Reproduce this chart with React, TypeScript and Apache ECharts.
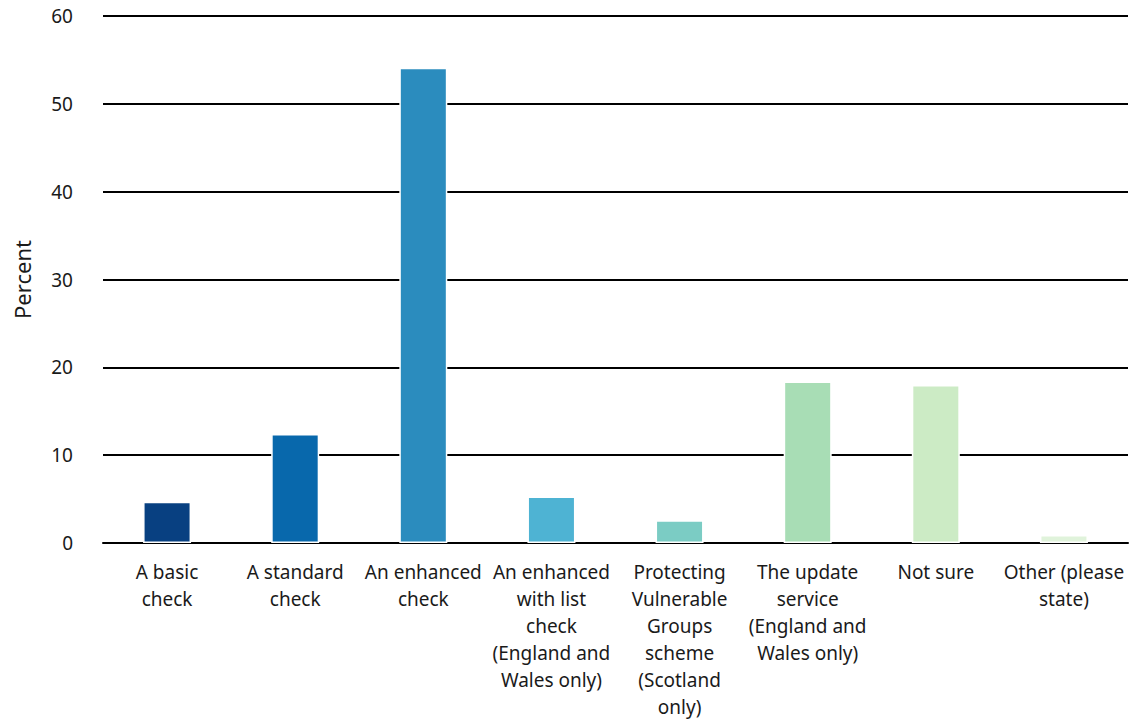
import React, { useEffect, useRef } from "react";
import * as echarts from "echarts";

const categories = [
  "A basic\ncheck",
  "A standard\ncheck",
  "An enhanced\ncheck",
  "An enhanced\nwith list\ncheck\n(England and\nWales only)",
  "Protecting\nVulnerable\nGroups\nscheme\n(Scotland\nonly)",
  "The update\nservice\n(England and\nWales only)",
  "Not sure",
  "Other (please\nstate)",
];
const values = [4.7, 12.4, 54.1, 5.3, 2.6, 18.4, 18.0, 0.9];
const colors = ["#084081", "#0868ac", "#2b8cbe", "#4eb3d3", "#7bccc4", "#a8ddb5", "#ccebc5", "#e0f3db"];
const yTicks = { min: 0, max: 60, interval: 10 };

const FONT = "Noto Sans";

export default function App() {
  const ref = useRef<HTMLDivElement>(null);
  useEffect(() => {
    if (!ref.current) return;
    const chart = echarts.init(ref.current, undefined, { renderer: "svg" });
    chart.setOption({
      animation: false,
      textStyle: { fontFamily: FONT },
      grid: { left: 103, right: 5, top: 16, bottom: 178, containLabel: false },
      xAxis: {
        type: "category",
        data: categories,
        axisLine: { show: true, lineStyle: { color: "#000", width: 2 } },
        axisTick: { show: false },
        axisLabel: {
          interval: 0,
          color: "#1a1a1a",
          fontSize: 19,
          fontFamily: FONT,
          lineHeight: 27,
          margin: 15,
          align: "center",
        },
      },
      yAxis: {
        type: "value",
        min: yTicks.min,
        max: yTicks.max,
        interval: yTicks.interval,
        name: "Percent",
        nameLocation: "middle",
        nameRotate: 90,
        nameGap: 70,
        nameTextStyle: { color: "#1a1a1a", fontSize: 22, fontFamily: FONT },
        axisLine: { show: false },
        axisTick: { show: false },
        axisLabel: { color: "#1a1a1a", fontSize: 19, fontFamily: FONT, margin: 30 },
        splitLine: { show: true, lineStyle: { color: "#000", width: 2 } },
      },
      series: [
        {
          type: "bar",
          barWidth: 48,
          data: values.map((v, i) => ({
            value: v,
            itemStyle: { color: colors[i], borderColor: "#fff", borderWidth: 1.5 },
          })),
        },
      ],
    });
    return () => chart.dispose();
  }, []);
  return <div ref={ref} style={{ width: 1133, height: 721, position: "absolute", left: 0, top: 0 }} />;
}
